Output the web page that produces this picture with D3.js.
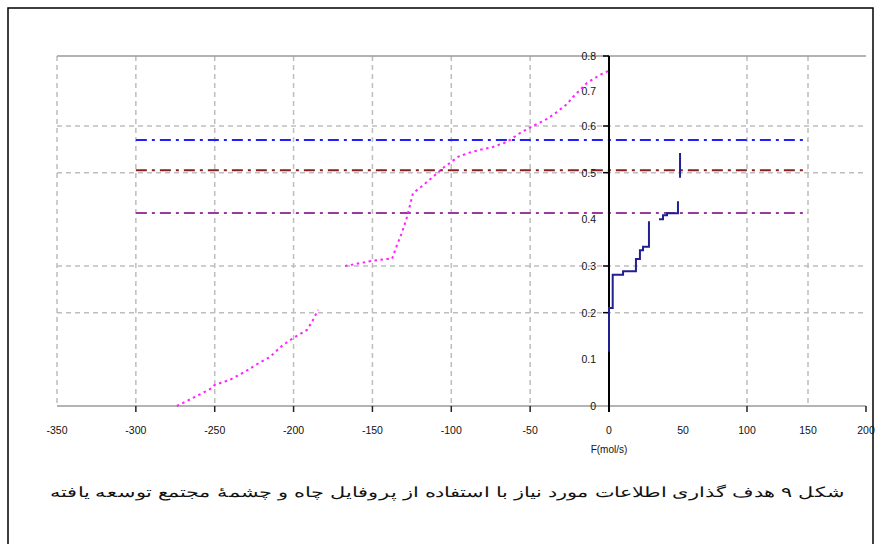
<!DOCTYPE html>
<html>
<head>
<meta charset="utf-8">
<script src="https://cdn.jsdelivr.net/npm/d3@7"></script>
<style>
  html, body { margin: 0; padding: 0; background: #fff; }
  svg { display: block; }
  text { font-family: "Liberation Sans", Arial, sans-serif; }
</style>
</head>
<body>
<svg id="chart" width="881" height="544"></svg>
<script>
// Axis ticks
const xTicks = [-350, -300, -250, -200, -150, -100, -50, 0, 50, 100, 150, 200];
const xTickMarks = [-300, -250, -200, -150, -100, -50, 100, 200];
const xGrid = [-350, -300, -250, -200, -150, -100, -50, 100, 150];
const yTicks = [0, 0.1, 0.2, 0.3, 0.4, 0.5, 0.6, 0.7, 0.8];
const yTickMarks = [0.2, 0.3, 0.5, 0.6, 0.8];
const yGrid = [0.2, 0.3, 0.5, 0.6];

// Source profile (dotted, magenta); null splits the curve into pieces
const sourceFlow = [-274, -264, -253, -250, -240.5, -231, -223, -215, -207, -200, -191.5, -187.7, -184.5,
  null,
  -167.4, -150.3, -140.8, -137.6, -134.4, -131.3, -128.1, -126.2, -124.3, -117.9, -111.6, -105.3,
  -100.8, -95.7, -89.4, -81.8, -73.6, -64.7, -56.4, -48.2, -39.3, -33, -26.6, -22.8, -14, -5.7, -0.6];
const sourcePurity = [0, 0.017, 0.036, 0.045, 0.056, 0.073, 0.09, 0.105, 0.13, 0.146, 0.163, 0.184, 0.206,
  null,
  0.300, 0.311, 0.315, 0.315, 0.345, 0.371, 0.405, 0.43, 0.456, 0.473, 0.491, 0.510,
  0.521, 0.534, 0.542, 0.549, 0.555, 0.566, 0.585, 0.600, 0.620, 0.640, 0.663, 0.683, 0.723, 0.746, 0.757];

// Sink profile (step line, navy)
const sinkFlow = [0, 2.5, 9.5, 18.2, 20.9, 23, 27, 27,
  null,
  33.8, 36.5, 39.2, 46.6, 46.6,
  null,
  48, 48];
const sinkPurity = [0.116, 0.21, 0.281, 0.289, 0.315, 0.334, 0.341, 0.396,
  null,
  0.40, 0.40, 0.409, 0.413, 0.439,
  null,
  0.489, 0.542];

// Purity levels (dash-dot reference lines)
const levelNames = ["blue", "brown", "purple"];
const levelPurity = [0.570, 0.505, 0.4135];
const levelColors = ["#1f1fff", "#8e1f1f", "#9b3a9b"];
const levelFrom = -300, levelTo = 150;

const xTitle = "F(mol/s)";
const caption = "شکل ۹ هدف گذاری اطلاعات مورد نیاز با استفاده از پروفایل چاه و چشمهٔ مجتمع توسعه یافته";

const svg = d3.select("#chart");

const x = d3.scaleLinear()
  .domain([-350, 0, 50, 100, 150, 200])
  .range([57, 609, 683, 747, 808, 866]);
const y = d3.scaleLinear()
  .domain([0, 0.6, 0.8])
  .range([406, 126, 56]);

// Outer frame
svg.append("rect")
  .attr("x", 8).attr("y", 8).attr("width", 865).attr("height", 545)
  .attr("fill", "none").attr("stroke", "#000").attr("stroke-width", 1.5);

// Grid
const grid = svg.append("g").attr("stroke", "#bdbdbd").attr("stroke-width", 1.5)
  .attr("stroke-dasharray", "5,4").attr("fill", "none");
grid.selectAll("line.h").data(yGrid).join("line")
  .attr("x1", x(-350)).attr("x2", x(200))
  .attr("y1", d => y(d)).attr("y2", d => y(d));
grid.selectAll("line.v").data(xGrid).join("line")
  .attr("x1", d => x(d)).attr("x2", d => x(d))
  .attr("y1", y(0.8)).attr("y2", y(0));

// Top border of plot area
svg.append("line")
  .attr("x1", x(-350)).attr("x2", x(200))
  .attr("y1", y(0.8)).attr("y2", y(0.8))
  .attr("stroke", "#9a9a9a").attr("stroke-width", 1.5);

// X axis line and ticks
svg.append("line")
  .attr("x1", x(-350)).attr("x2", x(200))
  .attr("y1", y(0)).attr("y2", y(0))
  .attr("stroke", "#9a9a9a").attr("stroke-width", 1.5);
svg.append("g").selectAll("line").data(xTickMarks).join("line")
  .attr("x1", d => x(d)).attr("x2", d => x(d))
  .attr("y1", y(0)).attr("y2", y(0) + 6)
  .attr("stroke", "#222").attr("stroke-width", 1.5);
svg.append("g").selectAll("text").data(xTicks).join("text")
  .attr("x", d => x(d)).attr("y", y(0) + 28)
  .attr("text-anchor", "middle")
  .attr("font-size", 10.5).attr("fill", "#111")
  .text(d => d);
svg.append("text")
  .attr("x", x(0)).attr("y", y(0) + 47)
  .attr("text-anchor", "middle")
  .attr("font-size", 10).attr("fill", "#111")
  .text(xTitle);

// Purity level lines
svg.append("g").selectAll("line").data(levelNames).join("line")
  .attr("x1", x(levelFrom)).attr("x2", x(levelTo))
  .attr("y1", (d, i) => y(levelPurity[i])).attr("y2", (d, i) => y(levelPurity[i]))
  .attr("stroke", (d, i) => levelColors[i])
  .attr("stroke-width", 2)
  .attr("stroke-dasharray", "11,5,3,5");

// Y axis at zero flow
svg.append("line")
  .attr("x1", x(0)).attr("x2", x(0))
  .attr("y1", y(0.8)).attr("y2", y(0) + 6)
  .attr("stroke", "#000").attr("stroke-width", 2);
svg.append("g").selectAll("line").data(yTickMarks).join("line")
  .attr("x1", x(0) - 6).attr("x2", x(0))
  .attr("y1", d => y(d)).attr("y2", d => y(d))
  .attr("stroke", "#000").attr("stroke-width", 1.5);
svg.append("g").selectAll("text").data(yTicks).join("text")
  .attr("x", x(0) - 13).attr("y", d => y(d) + 4)
  .attr("text-anchor", "end")
  .attr("font-size", 10.5).attr("fill", "#111")
  .text(d => d === 0 ? "0" : d3.format(".1f")(d));

// Source curve
const sourcePts = sourceFlow.map((f, i) => [f, sourcePurity[i]]);
const line = d3.line()
  .defined(d => d[0] !== null && d[1] !== null)
  .x(d => x(d[0])).y(d => y(d[1]));
svg.append("path")
  .attr("d", line(sourcePts))
  .attr("fill", "none")
  .attr("stroke", "#ff22ff")
  .attr("stroke-width", 2)
  .attr("stroke-dasharray", "2.5,3.5");

// Sink curve
const sinkPts = sinkFlow.map((f, i) => [f, sinkPurity[i]]);
svg.append("path")
  .attr("d", line.curve(d3.curveStepBefore)(sinkPts))
  .attr("fill", "none")
  .attr("stroke", "#20208f")
  .attr("stroke-width", 2);

// Caption
svg.append("text")
  .attr("x", 447).attr("y", 497)
  .attr("text-anchor", "middle")
  .attr("direction", "rtl")
  .attr("font-family", "DejaVu Sans, Noto Sans, sans-serif")
  .attr("font-size", 14).attr("fill", "#111")
  .attr("textLength", 795).attr("lengthAdjust", "spacingAndGlyphs")
  .text(caption);
</script>
</body>
</html>
